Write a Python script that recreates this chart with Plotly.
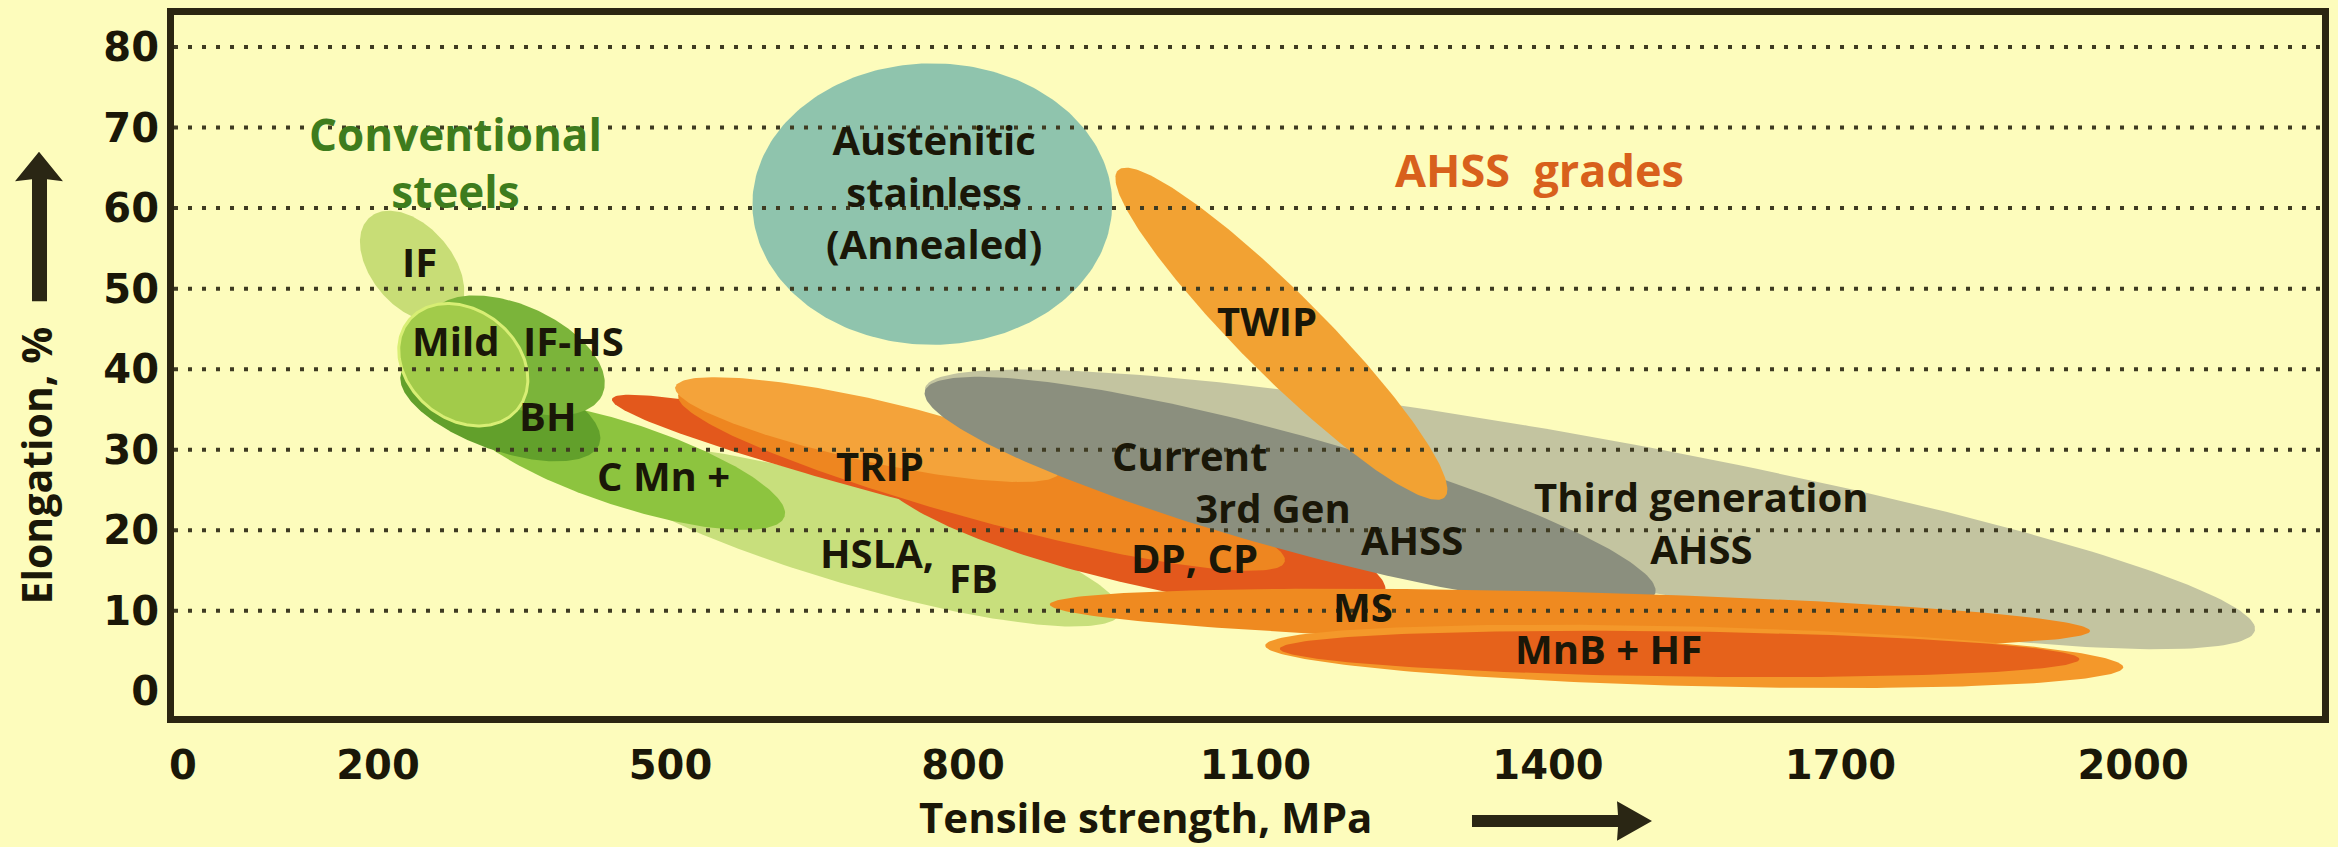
import numpy as np
import plotly.graph_objects as go

# ---------------- data ----------------
X_TICKS = [0, 200, 500, 800, 1100, 1400, 1700, 2000]
Y_TICKS = [0, 10, 20, 30, 40, 50, 60, 70, 80]

# Each steel family is an (inclined) ellipse: end points of its long axis
# in (tensile strength MPa, elongation %) and the short/long axis ratio.
REGIONS = ["Third generation AHSS", "HSLA, FB", "C Mn +", "DP, CP (tail)", "DP, CP",
           "TRIP", "TRIP (light)", "Current 3rd Gen AHSS", "TWIP", "MS",
           "MnB + HF (rim)", "MnB + HF", "IF", "BH", "IF-HS", "Mild",
           "Austenitic stainless"]
TS_START = [761, 417, 289, 440, 715, 508, 505, 761, 959, 889, 1110, 1125, 192, 224, 253, 232, 584]
EL_START = [37.6, 29.0, 34.6, 36.3, 27.2, 36.8, 37.8, 37.3, 64.7, 10.8, 5.7, 5.3, 58.9, 39.6, 46.6, 46.1, 60.5]
TS_END = [2125, 961, 617, 1233, 1233, 1130, 899, 1510, 1294, 1956, 1990, 1945, 278, 427, 430, 343, 953]
EL_END = [7.6, 9.7, 21.7, 12.7, 12.4, 16.1, 27.2, 12.2, 24.1, 7.5, 3.0, 4.0, 46.6, 30.7, 36.8, 35.0, 60.5]
AXIS_RATIO = [0.107, 0.18, 0.25, 0.075, 0.2, 0.133, 0.16, 0.153, 0.18, 0.05, 0.07, 0.057,
              0.62, 0.40, 0.53, 0.78, 0.79]

NB = "\u00a0"
LABELS = ["IF", "Mild", "IF-HS", "BH", "C Mn +", "TRIP", "HSLA,", "FB", "DP, CP",
          "Current<br>" + NB * 8 + "3rd Gen", "AHSS",
          "Third generation<br>AHSS", "MS", "MnB + HF",
          "TWIP", "Austenitic<br>stainless<br>(Annealed)"]
LABEL_TS = [243, 280, 401, 374, 493, 715, 712, 811, 1037, 1075, 1260, 1557, 1210, 1462, 1112, 770]
LABEL_EL = [53.4, 43.6, 43.6, 34.3, 26.8, 28.0, 17.2, 14.1, 16.6, 26.1, 18.8, 21.0, 10.6, 5.3,
            46.0, 62.0]
LABEL_ALIGN = ["center"] * 9 + ["left"] + ["center"] * 6

# ---------------- styling ----------------
COLORS = ["#c3c4a0", "#c8df7c", "#8dc43f", "#e3581c", "#e3581c", "#ee8620", "#f4a33a",
          "#8b8f7e", "#f2a233", "#ef8a20", "#f4982a", "#e6621b", "#c8dd76", "#62a02b",
          "#7bb43a", "#a2cb4a", "#8fc4ad"]
BG = "#fdfcbc"
INK = "#1a1708"
FRAME = "#2b2511"

W, H = 2338, 847
ML, MR, MT, MB = 174, 16, 8, 131
XR = [-9.2, 2193.8]
YR = [-3.05, 83.97]
PW, PH = W - ML - MR, H - MT - MB
SX = PW / (XR[1] - XR[0])
SY = PH / (YR[1] - YR[0])


def ellipse(x1, y1, x2, y2, ratio, n=240):
    p1 = np.array([x1 * SX, y1 * SY])
    p2 = np.array([x2 * SX, y2 * SY])
    c = (p1 + p2) / 2
    d = p2 - p1
    a = np.hypot(*d) / 2
    u = d / (2 * a)
    v = np.array([-u[1], u[0]])
    b = ratio * a
    t = np.linspace(0, 2 * np.pi, n)
    pts = c[None, :] + np.outer(a * np.cos(t), u) + np.outer(b * np.sin(t), v)
    return pts[:, 0] / SX, pts[:, 1] / SY


fig = go.Figure()
for i, name in enumerate(REGIONS):
    ex, ey = ellipse(TS_START[i], EL_START[i], TS_END[i], EL_END[i], AXIS_RATIO[i])
    line = dict(width=0)
    if name == "Mild":
        line = dict(width=3, color="#d8ee74")
    fig.add_trace(go.Scatter(x=ex, y=ey, mode="lines", fill="toself",
                             fillcolor=COLORS[i], line=line, name=name,
                             hoverinfo="name", showlegend=False))

LABEL_FONT = dict(family="Open Sans", size=40, color=INK, weight="bold")
annotations = []
for txt, lx, ly, al in zip(LABELS, LABEL_TS, LABEL_EL, LABEL_ALIGN):
    annotations.append(dict(x=lx, y=ly, xref="x", yref="y", text=txt, showarrow=False,
                            xanchor="center", yanchor="middle", align=al, font=LABEL_FONT))

# group titles
annotations += [
    dict(x=280, y=65.7, xref="x", yref="y", text="Conventional<br>steels", showarrow=False,
         xanchor="center", yanchor="middle",
         font=dict(family="Open Sans", size=44, color="#3e7c1d", weight="bold")),
    dict(x=1391, y=64.8, xref="x", yref="y", text="AHSS" + NB + " grades", showarrow=False,
         xanchor="center", yanchor="middle",
         font=dict(family="Open Sans", size=45, color="#d8601c", weight="bold")),
]


def px2paper(px, py):
    return (px - ML) / PW, (H - MB - py) / PH


# axis titles
tx, ty = px2paper(1145, 817)
annotations.append(dict(x=tx, y=ty, xref="paper", yref="paper", text="Tensile strength, MPa",
                        showarrow=False, xanchor="center", yanchor="middle",
                        font=dict(family="Open Sans", size=42, color=INK, weight="bold")))
tx, ty = px2paper(36, 463)
annotations.append(dict(x=tx, y=ty, xref="paper", yref="paper", text="Elongation, %",
                        textangle=-90, showarrow=False, xanchor="center", yanchor="middle",
                        font=dict(family="Open Sans", size=41, color=INK, weight="bold")))

shapes = []
# dotted grid lines drawn over the regions
for yv in Y_TICKS[1:]:
    shapes.append(dict(type="line", xref="paper", x0=0, x1=1, yref="y", y0=yv, y1=yv,
                       line=dict(color="#3f3b22", width=4, dash="4px,10px"), layer="above"))


def poly(points):
    pts = [px2paper(*p) for p in points]
    return "M " + " L ".join(f"{a:.5f},{b:.5f}" for a, b in pts) + " Z"


ARROW = "#2a2614"
# up arrow next to the y title
shapes.append(dict(type="path", xref="paper", yref="paper",
                   path=poly([(32, 297), (47, 297), (47, 174), (63, 176), (39, 146), (15, 176), (32, 174)]),
                   fillcolor=ARROW, line=dict(width=0)))
# right arrow next to the x title
shapes.append(dict(type="path", xref="paper", yref="paper",
                   path=poly([(1472, 816), (1618, 816), (1617, 802), (1652, 822), (1617, 842), (1618, 828), (1472, 828)]),
                   fillcolor=ARROW, line=dict(width=0)))

fig.update_layout(
    width=W, height=H,
    margin=dict(l=ML, r=MR, t=MT, b=MB, pad=0),
    paper_bgcolor=BG, plot_bgcolor=BG,
    annotations=annotations, shapes=shapes,
    showlegend=False,
)
fig.update_xaxes(range=XR, tickvals=X_TICKS, ticktext=[str(v) for v in X_TICKS],
                 showgrid=False, zeroline=False, showline=True, mirror=True,
                 linecolor=FRAME, linewidth=7, ticks="", ticklabelstandoff=8,
                 tickfont=dict(family="DejaVu Sans", size=40, color=INK, weight="bold"))
fig.update_yaxes(range=YR, tickvals=Y_TICKS, ticktext=[str(v) for v in Y_TICKS],
                 showgrid=False, zeroline=False, showline=True, mirror=True,
                 linecolor=FRAME, linewidth=7, ticks="", ticklabelstandoff=0,
                 tickfont=dict(family="DejaVu Sans", size=40, color=INK, weight="bold"))

fig.write_html("out.html", config={"displayModeBar": False},
               post_script="document.body.style.margin='0';document.body.style.padding='0';"
                           "document.body.style.background='" + BG + "';")
